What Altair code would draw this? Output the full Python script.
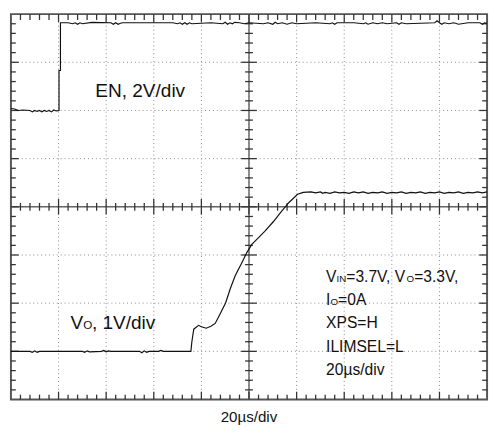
import altair as alt
import pandas as pd

# ---- scope geometry (divisions) ----
X_DIVS = 10
Y_DIVS = 8
W, H = 488, 395

# ---- traces: (time in div, level in div from bottom) ----
en_trace = [
    (0.00, 6.04), (0.08, 6.03), (0.15, 6.00), (0.25, 6.01), (0.40, 6.00), (0.45, 5.97),
    (0.50, 6.00), (0.55, 5.98), (0.60, 6.00), (0.65, 5.97), (0.70, 6.00), (0.75, 5.98),
    (0.80, 6.00), (0.85, 5.97), (0.90, 6.01), (0.95, 5.99), (1.01, 6.00), (1.01, 6.83),
    (1.04, 6.83), (1.04, 7.82), (1.20, 7.82), (1.30, 7.80), (1.35, 7.82), (1.40, 7.79),
    (1.45, 7.82), (1.50, 7.80), (1.70, 7.83), (2.10, 7.82), (2.15, 7.79), (2.20, 7.82),
    (2.25, 7.79), (2.30, 7.81), (2.35, 7.82), (2.60, 7.82), (3.40, 7.82), (3.50, 7.80),
    (3.55, 7.82), (3.60, 7.79), (3.65, 7.82), (3.70, 7.79), (3.75, 7.82), (3.80, 7.80),
    (4.20, 7.82), (4.45, 7.80), (4.50, 7.83), (4.55, 7.79), (4.60, 7.82), (4.65, 7.80),
    (4.70, 7.83), (4.80, 7.82), (4.90, 7.80), (5.00, 7.82), (5.30, 7.80), (5.40, 7.82),
    (5.50, 7.79), (5.55, 7.83), (5.60, 7.80), (5.70, 7.82), (5.80, 7.79), (5.90, 7.82),
    (6.00, 7.80), (6.40, 7.82), (6.70, 7.80), (6.75, 7.82), (6.80, 7.79), (6.85, 7.82),
    (7.20, 7.82), (7.40, 7.80), (7.45, 7.82), (7.50, 7.79), (7.60, 7.82), (7.70, 7.80),
    (7.80, 7.82), (7.90, 7.80), (8.10, 7.82), (8.15, 7.79), (8.20, 7.82), (8.30, 7.80),
    (8.90, 7.82), (8.95, 7.86), (9.00, 7.82), (9.05, 7.79), (9.10, 7.82), (9.20, 7.80),
    (9.30, 7.82), (9.40, 7.79), (9.60, 7.82), (9.85, 7.82), (9.90, 7.79), (9.95, 7.82),
    (10.00, 7.81),
]

vo_trace = [
    (0.00, 1.00), (0.40, 1.00), (0.45, 0.98), (0.50, 1.01), (0.55, 0.98), (0.60, 1.00),
    (1.50, 1.00), (1.55, 0.98), (1.60, 1.01), (1.65, 0.99), (1.90, 1.00), (1.95, 1.02),
    (2.00, 0.99), (2.05, 1.01), (2.10, 1.00), (2.70, 1.00), (2.75, 0.97), (2.80, 1.01),
    (2.85, 0.98), (2.90, 1.00), (3.10, 1.00), (3.15, 1.02), (3.20, 1.00), (3.78, 1.00),
    (3.80, 1.20), (3.84, 1.46), (3.94, 1.54), (4.00, 1.51), (4.10, 1.48), (4.20, 1.52),
    (4.29, 1.58), (4.39, 1.77), (4.51, 2.01), (4.61, 2.31), (4.71, 2.57), (4.86, 2.86),
    (4.96, 3.06), (5.06, 3.22), (5.20, 3.36), (5.33, 3.49), (5.51, 3.69), (5.67, 3.89),
    (5.84, 4.09), (6.02, 4.26), (6.14, 4.30), (6.30, 4.31), (6.40, 4.29), (6.50, 4.31),
    (6.55, 4.28), (6.60, 4.30), (6.70, 4.28), (6.80, 4.31), (6.90, 4.29), (7.00, 4.30),
    (7.10, 4.28), (7.20, 4.31), (7.30, 4.29), (7.40, 4.31), (7.50, 4.28), (7.60, 4.30),
    (7.70, 4.29), (7.80, 4.31), (7.90, 4.28), (8.00, 4.30), (8.10, 4.29), (8.20, 4.31),
    (8.30, 4.28), (8.40, 4.30), (8.50, 4.29), (8.60, 4.31), (8.70, 4.28), (8.80, 4.30),
    (8.90, 4.29), (9.00, 4.31), (9.10, 4.28), (9.20, 4.30), (9.30, 4.29), (9.40, 4.31),
    (9.50, 4.28), (9.60, 4.30), (9.70, 4.29), (9.80, 4.31), (9.90, 4.29), (10.00, 4.31),
]

grid_x = list(range(1, X_DIVS))
grid_y = list(range(1, Y_DIVS))
minor_x = [round(k * 0.2, 1) for k in range(1, X_DIVS * 5) if k % 5]
minor_y = [round(k * 0.2, 1) for k in range(1, Y_DIVS * 5) if k % 5]

xs = alt.Scale(domain=[0, X_DIVS], nice=False, zero=False)
ys = alt.Scale(domain=[0, Y_DIVS], nice=False, zero=False)


def XE(field="t"):
    return alt.X(f"{field}:Q", scale=xs, axis=None)


def YE(field="v"):
    return alt.Y(f"{field}:Q", scale=ys, axis=None)


def trace_df(pairs):
    return pd.DataFrame({"i": range(len(pairs)),
                         "t": [p[0] for p in pairs],
                         "v": [p[1] for p in pairs]})


# dotted graticule
gx = alt.Chart(pd.DataFrame({"t": grid_x})).mark_rule(
    color="#8a8a8a", strokeWidth=1, strokeDash=[1, 3]).encode(x=XE())
gy = alt.Chart(pd.DataFrame({"v": grid_y})).mark_rule(
    color="#8a8a8a", strokeWidth=1, strokeDash=[1, 3]).encode(y=YE())

vo_line = alt.Chart(trace_df(vo_trace)).mark_line(color="#111", strokeWidth=1.2).encode(
    x=XE(), y=YE(), order=alt.Order("i:Q"))
en_line = alt.Chart(trace_df(en_trace)).mark_line(color="#111", strokeWidth=1.2).encode(
    x=XE(), y=YE(), order=alt.Order("i:Q"))

# center cross lines
cx = alt.Chart(pd.DataFrame({"t": [X_DIVS / 2]})).mark_rule(color="#666", strokeWidth=1.5).encode(x=XE())
cy = alt.Chart(pd.DataFrame({"v": [Y_DIVS / 2]})).mark_rule(color="#666", strokeWidth=1.5).encode(y=YE())

TC = "#333"


def vticks(vals, y0, y1):
    return alt.Chart(pd.DataFrame({"t": vals})).mark_rule(color=TC, strokeWidth=1.3).encode(
        x=XE(), y=alt.value(y0), y2=alt.value(y1))


def hticks(vals, x0, x1):
    return alt.Chart(pd.DataFrame({"v": vals})).mark_rule(color=TC, strokeWidth=1.3).encode(
        y=YE(), x=alt.value(x0), x2=alt.value(x1))


ticks = [
    vticks(minor_x, H / 2 - 4, H / 2 + 4), vticks(grid_x, H / 2 - 8, H / 2 + 8),
    hticks(minor_y, W / 2 - 4, W / 2 + 4), hticks(grid_y, W / 2 - 8, W / 2 + 8),
    vticks(minor_x, 0, 6), vticks(grid_x, 0, 8),
    vticks(minor_x, H, H - 5), vticks(grid_x, H, H - 8),
    hticks(minor_y, 0, 5), hticks(grid_y, 0, 8),
    hticks(minor_y, W, W - 5), hticks(grid_y, W, W - 8),
]

FONT = "Liberation Sans"


def txt(s, x, y, size, align="left"):
    return alt.Chart(pd.DataFrame({"s": [s]})).mark_text(
        align=align, baseline="alphabetic", fontSize=size, font=FONT, color="#111"
    ).encode(x=alt.value(x), y=alt.value(y), text="s:N")


labels = [
    txt("EN, 2V/div", 132.5, 85, 19.5, "center"),
    txt("V", 61, 323, 19.5), txt("O", 74, 323, 12), txt(", 1V/div", 83, 323, 19.5),
    txt("V", 323, 275, 16), txt("IN", 333.7, 275, 10), txt("=3.7V, V", 343.7, 275, 16),
    txt("O", 405.5, 275, 10), txt("=3.3V,", 413.3, 275, 16),
    txt("I", 323, 298, 16), txt("O", 327.5, 298, 10), txt("=0A", 335.3, 298, 16),
    txt("XPS=H", 323, 322, 16),
    txt("ILIMSEL=L", 323, 346, 16),
    txt("20µs/div", 323, 370, 16),
    txt("20µs/div", W / 2, 418, 15.5, "center"),
]

chart = alt.layer(gx, gy, cx, cy, *ticks, vo_line, en_line, *labels).properties(
    width=W, height=H,
    padding={"left": 0, "top": 0, "right": 0, "bottom": 0},
).configure_view(stroke="#555", strokeWidth=2)

chart.save("out.html", embed_options={"renderer": "svg", "actions": False})
